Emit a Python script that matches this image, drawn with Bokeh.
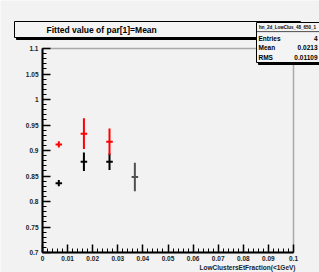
import numpy as np
from bokeh.plotting import figure
from bokeh.models import ColumnDataSource, Range1d, FixedTicker, BoxAnnotation, Label
from bokeh.embed import file_html
from bokeh.resources import INLINE

# ---------------- data ----------------
black_x = [0.0065, 0.0165, 0.0267, 0.0368]
black_xerr = [0.0013, 0.0013, 0.0013, 0.0013]
black_y = [0.836, 0.878, 0.878, 0.848]
black_yerr = [0.006, 0.018, 0.016, 0.028]
black_colors = ["black", "black", "black", "#505050"]

red_x = [0.0065, 0.0165, 0.0267]
red_xerr = [0.0013, 0.0013, 0.0013]
red_y = [0.912, 0.933, 0.917]
red_yerr = [0.006, 0.030, 0.026]
red_colors = ["#ff0000", "#ff0000", "#ff0000"]

x_ticks = [0.0, 0.01, 0.02, 0.03, 0.04, 0.05, 0.06, 0.07, 0.08, 0.09, 0.1]
x_tick_labels = ["0", "0.01", "0.02", "0.03", "0.04", "0.05", "0.06", "0.07", "0.08", "0.09", "0.1"]
y_ticks = [0.7, 0.75, 0.8, 0.85, 0.9, 0.95, 1.0, 1.05, 1.1]
y_tick_labels = ["0.7", "0.75", "0.8", "0.85", "0.9", "0.95", "1", "1.05", "1.1"]
x_lo, x_hi = 0.0, 0.1
y_lo, y_hi = 0.7, 1.1

title_text = "Fitted value of par[1]=Mean"
x_label = "LowClustersEtFraction(<1GeV)"
stats_name = "hn_2d_LowClus_48_650_1"
stats_keys = ["Entries", "Mean", "RMS"]
stats_vals = ["4", "0.0213", "0.01109"]

FONT = "Liberation Sans"
BG = "#f2f2f2"

# ---------------- layout geometry (pixels) ----------------
W, H = 319, 272
AX_L, AX_R, AX_T, AX_B = 42, 293, 48, 252  # plotting box in canvas pixels


def dx(px):
    return x_lo + (px - AX_L) * (x_hi - x_lo) / (AX_R - AX_L)


def dy(py):
    return y_lo + (AX_B - py) * (y_hi - y_lo) / (AX_B - AX_T)


p = figure(width=W, height=H,
           x_range=Range1d(dx(0), dx(W)), y_range=Range1d(dy(H), dy(0)),
           output_backend="svg", toolbar_location=None, title=None,
           min_border=0, min_border_left=0, min_border_right=0,
           min_border_top=0, min_border_bottom=0)
p.grid.visible = False
p.background_fill_color = BG
p.border_fill_color = BG
p.outline_line_color = None

x_minor = [round(v, 4) for v in np.arange(x_lo, x_hi + 1e-9, 0.002)]
y_minor = [round(v, 4) for v in np.arange(y_lo, y_hi + 1e-9, 0.01)]
p.xaxis.ticker = FixedTicker(ticks=x_ticks, minor_ticks=x_minor)
p.yaxis.ticker = FixedTicker(ticks=y_ticks, minor_ticks=y_minor)
p.xaxis.major_label_overrides = dict(zip(x_ticks, x_tick_labels))
p.yaxis.major_label_overrides = dict(zip(y_ticks, y_tick_labels))
p.xaxis.bounds = (x_lo, x_hi)
p.yaxis.bounds = (y_lo, y_hi)
p.yaxis.fixed_location = x_lo
p.xaxis.fixed_location = y_lo

for ax in (p.xaxis, p.yaxis):
    ax.major_tick_in = 8
    ax.major_tick_out = 0
    ax.minor_tick_in = 4
    ax.minor_tick_out = 0
    ax.axis_line_width = 2
    ax.axis_line_color = "black"
    ax.major_tick_line_width = 1.5
    ax.minor_tick_line_width = 1
    ax.major_label_text_font = FONT
    ax.major_label_text_font_style = "bold"
    ax.major_label_text_font_size = "6.5px"
    ax.major_label_text_color = "#222222"
p.xaxis.major_label_standoff = 3
p.yaxis.major_label_standoff = 4

# frame (top / right edges)
p.add_layout(BoxAnnotation(left=x_lo, right=x_hi, bottom=y_lo, top=y_hi,
                           fill_alpha=0, line_color="black", line_width=1.5, level="underlay"))

# ---------------- data marks ----------------
def cross_source(xs, xe, ys, ye, cols):
    xs, xe, ys, ye = map(np.asarray, (xs, xe, ys, ye))
    return ColumnDataSource(dict(x=xs, y=ys, x0=xs - xe, x1=xs + xe, y0=ys - ye, y1=ys + ye, c=cols))


bsrc = cross_source(black_x, black_xerr, black_y, black_yerr, black_colors)
rsrc = cross_source(red_x, red_xerr, red_y, red_yerr, red_colors)
for src in (bsrc, rsrc):
    p.segment(x0="x", y0="y0", x1="x", y1="y1", source=src, line_color="c", line_width=2)
    p.segment(x0="x0", y0="y", x1="x1", y1="y", source=src, line_color="c", line_width=2)


# ---------------- ROOT-style panes ----------------
def pane(l, t, r, b, shadow=2):
    p.add_layout(BoxAnnotation(left=dx(l + shadow), right=dx(r + shadow), top=dy(t + shadow), bottom=dy(b + shadow),
                               fill_color="black", fill_alpha=1, line_color="black", line_alpha=1))
    p.add_layout(BoxAnnotation(left=dx(l), right=dx(r), top=dy(t), bottom=dy(b),
                               fill_color="#f4f4f4", fill_alpha=1, line_color="black", line_alpha=1, line_width=1))


def text(px, py, s, size, align="left", bold=True, color="black"):
    p.add_layout(Label(x=dx(px), y=dy(py), text=s, text_font=FONT,
                       text_font_style="bold" if bold else "normal", text_font_size=size,
                       text_align=align, text_baseline="middle", text_color=color))


pane(14, 21, 300, 37)
text(46, 29.5, title_text, "8.5px")

pane(256, 22, 325, 62)
p.add_layout(BoxAnnotation(left=dx(256), right=dx(325), top=dy(31), bottom=dy(31.5),
                           fill_color="black", fill_alpha=1, line_color="black", line_width=0.5))
text(287, 26.5, stats_name, "4.5px", align="center")
for i, (k, v) in enumerate(zip(stats_keys, stats_vals)):
    yy = 37.5 + 9.5 * i
    text(258, yy, k, "6.5px")
    text(317, yy, v, "6.5px", align="right")

text(295, 267, x_label, "6.5px", align="right", color="#222222")

open("out.html", "w").write(file_html(p, INLINE))
